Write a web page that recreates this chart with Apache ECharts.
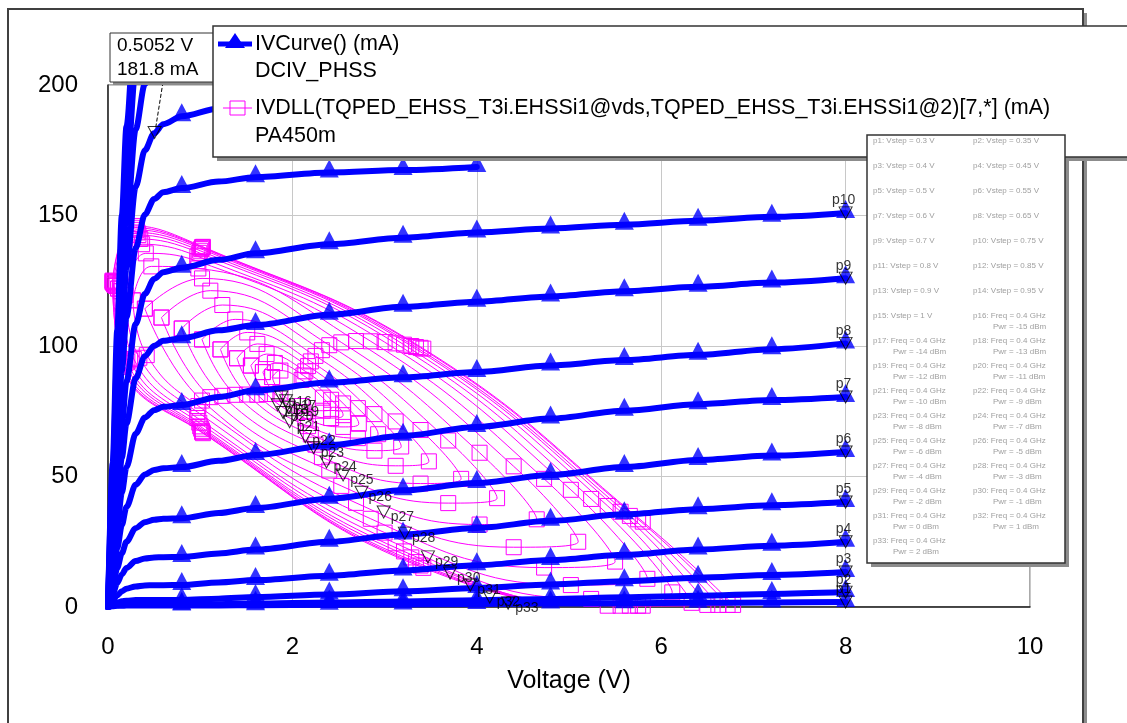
<!DOCTYPE html>
<html>
<head>
<meta charset="utf-8">
<script src="https://cdn.jsdelivr.net/npm/echarts@6/dist/echarts.min.js"></script>
<style>
html,body{margin:0;padding:0;background:#fff;}
#chart{width:1127px;height:723px;}
</style>
</head>
<body>
<div id="chart"></div>
<script>
// ---- DC IV sweep (IVCurve, DCIV_PHSS): drain voltage grid and drain current per Vstep ----
const vds = [0, 0.05, 0.1, 0.15, 0.2, 0.3, 0.4, 0.5, 0.6, 0.8, 1.2, 1.6, 2.4, 3.2, 4.0, 4.8, 5.6, 6.4, 7.2, 8.0];
const curveP1  = [0, 0.3, 0.45, 0.5, 0.53, 0.54, 0.55, 0.55, 0.55, 0.55, 0.6, 0.7, 0.85, 1.0, 1.15, 1.3, 1.45, 1.6, 1.75, 1.9];
const curveP2  = [0, 0.45, 0.7, 0.82, 0.87, 0.89, 0.9, 0.9, 0.9, 0.9, 1.1, 1.3, 1.7, 2.1, 2.6, 3.1, 3.7, 4.3, 5.0, 5.7];
const curveP3  = [0, 0.96, 1.7, 2.17, 2.44, 2.64, 2.69, 2.7, 2.7, 2.7, 3.2, 3.8, 4.8, 6.0, 7.3, 8.6, 9.9, 11.2, 12.3, 13.4];
const curveP4  = [0, 2.4, 4.5, 6.0, 7.0, 7.9, 8.26, 8.35, 8.38, 8.4, 9.4, 10.3, 12, 14, 16, 18, 20, 22, 23.5, 25];
const curveP5  = [0, 4.9, 9.2, 12.5, 14.9, 17.6, 18.6, 19, 19.1, 19.2, 20.5, 22, 25, 27.8, 30.3, 33, 35.5, 37.5, 39, 40.2];
const curveP6  = [0, 7.9, 14.9, 20.6, 25, 30.2, 32.5, 33.4, 33.8, 34, 36, 37.9, 41.5, 44.7, 47.5, 50.6, 53.6, 56.3, 58, 59.4];
const curveP7  = [0, 11.8, 22.5, 31.4, 38.3, 46.8, 50.8, 52.5, 53.2, 53.6, 56, 58.2, 62, 65.6, 69, 72.2, 75.2, 77.7, 79.3, 80.5];
const curveP8  = [0, 16.2, 31.1, 43.8, 53.6, 66.4, 72.6, 75.4, 76.7, 77.4, 80.5, 83, 86, 88, 90, 92.5, 94.6, 96.6, 98.8, 101];
const curveP9  = [0, 21.2, 40.7, 57.2, 70.3, 87.6, 96.1, 100.1, 102, 103, 106, 108, 112, 115, 117, 119, 121, 122.7, 124.3, 126];
const curveP10 = [0, 25.6, 49.3, 69.8, 86.4, 108.4, 120, 125.7, 128.3, 130, 133, 135.5, 139, 141.5, 143.5, 145, 146.5, 148, 149.5, 151];
const curveP11 = [0, 33.6, 64.4, 90.5, 111, 137.5, 150.4, 156.3, 158.9, 160.5, 163, 164.7, 166.5, 167.4, 168.6, null, null, null, null, null];
const curveP12 = [0, 39.5, 75.6, 106, 130, 161, 175, 181.5, 185, 188, 191, 192.5, 194, 195, null, null, null, null, null, null];
const curveP13 = [0, 44, 85, 120, 147, 183, 200.4, 208.5, 212, 214.5, 217, 218, null, null, null, null, null, null, null, null];
const curveP14 = [0, 50, 96, 135, 166, 206, 226, 235, 239, 241.5, 244, 245, null, null, null, null, null, null, null, null];
const curveP15 = [0, 55, 106, 150, 184, 229, 250, 260, 264.5, 267.5, 270, 271, null, null, null, null, null, null, null, null];
const ivCurves = [curveP1, curveP2, curveP3, curveP4, curveP5, curveP6, curveP7, curveP8,
                  curveP9, curveP10, curveP11, curveP12, curveP13, curveP14, curveP15];
const vsteps = [0.3, 0.35, 0.4, 0.45, 0.5, 0.55, 0.6, 0.65, 0.7, 0.75, 0.8, 0.85, 0.9, 0.95, 1];
const triangleStep = 0.8;   // a filled triangle every 0.8 V

// ---- Dynamic load lines (IVDLL, PA450m): one closed loop per input power [V, mA] ----
const loopM15 = [[1.78,88.1],[1.87,90.6],[2.10,87.0],[2.33,80.2],[2.42,75.9],[2.33,75.2],[2.10,77.0],[1.87,82.1],[1.78,88.1]];
const loopM14 = [[1.68,90.0],[1.81,93.5],[2.12,88.7],[2.42,79.4],[2.55,73.5],[2.42,72.4],[2.12,74.7],[1.81,81.6],[1.68,90.0]];
const loopM13 = [[1.55,92.5],[1.72,96.9],[2.14,90.3],[2.55,78.0],[2.72,70.2],[2.55,69.0],[2.14,72.3],[1.72,81.6],[1.55,92.5]];
const loopM12 = [[1.40,95.3],[1.62,100.8],[2.17,92.3],[2.71,76.2],[2.93,66.2],[2.71,64.7],[2.17,69.3],[1.62,81.3],[1.40,95.3]];
const loopM11 = [[1.22,98.7],[1.51,105.2],[2.20,94.1],[2.89,73.9],[3.18,61.5],[2.89,59.9],[2.20,66.1],[1.51,81.4],[1.22,98.7]];
const loopM10 = [[1.02,102.5],[1.38,110.2],[2.25,96.2],[3.12,71.1],[3.48,55.8],[3.12,54.1],[2.25,62.2],[1.38,81.3],[1.02,102.5]];
const loopM9  = [[0.80,106.7],[1.24,115.7],[2.32,98.4],[3.39,67.8],[3.83,49.1],[3.39,47.3],[2.32,57.4],[1.24,80.9],[0.80,106.7]];
const loopM8  = [[0.58,110.9],[1.11,121.2],[2.40,100.3],[3.69,63.8],[4.22,41.7],[3.69,39.8],[2.40,52.3],[1.11,80.4],[0.58,110.9]];
const loopM7  = [[0.40,114.3],[1.02,125.9],[2.53,101.4],[4.03,59.1],[4.65,33.6],[4.03,31.6],[2.53,46.4],[1.02,79.1],[0.40,114.3]];
const loopM6  = [[0.27,117.5],[0.47,130.5],[0.98,129.7],[2.69,101.9],[4.40,53.9],[5.10,25.0],[4.40,22.9],[2.69,39.9],[0.98,77.0],[0.42,96.5],[0.27,117.5]];
const loopM5  = [[0.19,119.5],[0.41,135.5],[0.97,132.5],[2.85,101.8],[4.73,49.1],[5.50,17.4],[4.73,15.1],[2.85,33.8],[0.97,74.7],[0.34,95.5],[0.19,119.5]];
const loopM4  = [[0.14,121.0],[0.37,139.0],[0.97,134.4],[3.00,101.5],[5.02,44.9],[5.85,10.8],[5.02,8.4],[3.00,28.5],[0.97,72.4],[0.28,95.0],[0.14,121.0]];
const loopM3  = [[0.11,122.0],[0.35,141.0],[0.99,135.7],[3.12,101.0],[5.24,41.4],[6.12,5.6],[5.24,3.1],[3.12,24.4],[0.99,70.6],[0.24,94.5],[0.11,122.0]];
const loopM2  = [[0.09,123.0],[0.33,142.5],[1.00,136.5],[3.21,100.5],[5.42,38.7],[6.33,1.6],[5.42,0.5],[3.21,21.3],[1.00,69.2],[0.21,94.0],[0.09,123.0]];
const loopM1  = [[0.07,123.5],[0.32,143.5],[1.01,137.2],[3.29,100.0],[5.56,36.5],[6.50,0.8],[5.56,0.5],[3.29,19.0],[1.01,68.3],[0.19,93.5],[0.07,123.5]];
const loop0   = [[0.06,124.0],[0.31,144.5],[1.02,137.6],[3.34,99.6],[5.66,34.9],[6.62,0.8],[5.66,0.5],[3.34,17.2],[1.02,67.5],[0.17,93.0],[0.06,124.0]];
const loopP1  = [[0.05,124.5],[0.30,145.3],[1.02,137.9],[3.39,99.3],[5.75,33.6],[6.72,0.8],[5.75,0.5],[3.39,15.9],[1.02,67.0],[0.16,92.5],[0.05,124.5]];
const loopP2  = [[0.05,125.0],[0.30,146.0],[1.03,138.0],[3.42,99.0],[5.80,32.7],[6.78,0.8],[5.80,0.5],[3.42,15.0],[1.03,66.6],[0.16,92.0],[0.05,125.0]];
const dllLoops = [loopM15, loopM14, loopM13, loopM12, loopM11, loopM10, loopM9, loopM8, loopM7,
                  loopM6, loopM5, loopM4, loopM3, loopM2, loopM1, loop0, loopP1, loopP2];
const powers = [-15, -14, -13, -12, -11, -10, -9, -8, -7, -6, -5, -4, -3, -2, -1, 0, 1, 2];
const freqGHz = 0.4;

// ---- markers p16..p33 placed on the load lines ----
const pwrMarkV = [1.88, 1.93, 1.84, 1.96, 1.90, 1.97, 2.14, 2.23, 2.37, 2.55, 2.75, 2.99, 3.22, 3.47, 3.71, 3.93, 4.14, 4.34];
const pwrMarkI = [80.5, 79.0, 77.5, 76.5, 74.5, 71.0, 65.3, 61.0, 55.6, 50.6, 44.0, 36.4, 28.3, 19.2, 13.0, 8.4, 3.8, 1.5];

// ---- readout marker ----
const readoutV = 0.5052;
const readoutI = 181.8;

// ---- axes ----
const xTicks = [0, 2, 4, 6, 8, 10];
const yTicks = [0, 50, 100, 150, 200];

const BLUE = '#0000ff';
const PINK = '#ff00ff';
const FONT = 'Arial, "Liberation Sans", sans-serif';
const downTri = 'path://M0,0L10,0L5,9Z';

const chart = echarts.init(document.getElementById('chart'), null, {renderer: 'canvas'});

const series = [];

// load-line loops
dllLoops.forEach((loop, i) => {
  series.push({
    type: 'line', name: 'IVDLL ' + powers[i], data: loop,
    smooth: 0.45, z: 2, clip: true, silent: true,
    symbol: 'rect', symbolSize: 15, showSymbol: true, showAllSymbol: true,
    lineStyle: {color: PINK, width: 1},
    itemStyle: {color: 'rgba(255,255,255,0)', borderColor: PINK, borderWidth: 1}
  });
});

// IV curves
ivCurves.forEach((c, i) => {
  const pts = [];
  vds.forEach((v, j) => { if (c[j] !== null) pts.push([v, c[j]]); });
  series.push({
    type: 'line', name: 'IVCurve p' + (i + 1), data: pts,
    smooth: 0.3, smoothMonotone: 'x', symbol: 'none', z: 3, clip: true, silent: true,
    lineStyle: {color: BLUE, width: 6, cap: 'round', join: 'round'}
  });
});

// filled triangles along the IV curves
const triPts = [];
ivCurves.forEach(c => {
  vds.forEach((v, j) => {
    const k = v / triangleStep;
    if (v > 0 && Math.abs(k - Math.round(k)) < 1e-6 && c[j] !== null) triPts.push([v, c[j]]);
  });
});
series.push({
  type: 'scatter', data: triPts, symbol: 'triangle', symbolSize: [19, 18], symbolOffset: [0, -4],
  itemStyle: {color: BLUE}, z: 4, clip: true, silent: true
});

// p1..p10 markers at the sweep end
const endMarks = [];
ivCurves.forEach((c, i) => {
  const last = c[c.length - 1];
  if (last !== null && last <= 200) endMarks.push({value: [vds[vds.length - 1], last], name: 'p' + (i + 1)});
});
series.push({
  type: 'scatter', data: endMarks, symbol: downTri, symbolSize: [13, 12], z: 6, clip: true, silent: true,
  itemStyle: {color: 'rgba(0,0,0,0)', borderColor: '#000', borderWidth: 1},
  label: {show: true, position: 'top', distance: 1, offset: [-2, 2], formatter: p => p.name,
          color: '#000', fontSize: 14, fontFamily: FONT}
});

// p16..p33 markers on the load lines
const pwrMarks = pwrMarkV.map((v, i) => ({value: [v, pwrMarkI[i]], name: 'p' + (16 + i)}));
series.push({
  type: 'scatter', data: pwrMarks, symbol: downTri, symbolSize: [13, 12], z: 6, clip: true, silent: true,
  itemStyle: {color: 'rgba(0,0,0,0)', borderColor: '#000', borderWidth: 1},
  label: {show: true, position: 'right', distance: 0, offset: [0, 5], formatter: p => p.name,
          color: '#000', fontSize: 14, fontFamily: FONT}
});

// readout marker
series.push({
  type: 'scatter', data: [[readoutV, readoutI]], symbol: downTri, symbolSize: [13, 12], z: 6, silent: true,
  itemStyle: {color: 'rgba(0,0,0,0)', borderColor: '#000', borderWidth: 1}
});

// ---- overlay boxes ----
const G = [];
// outer frame
G.push({type: 'rect', z: 50, shape: {x: 1083, y: 13, width: 4, height: 720}, style: {fill: '#8c8c8c'}});
G.push({type: 'rect', z: 51, shape: {x: 8, y: 9, width: 1075, height: 730}, style: {fill: 'none', stroke: '#404040', lineWidth: 2}});

// readout box
G.push({type: 'rect', z: 100, shape: {x: 113, y: 36, width: 105, height: 49}, style: {fill: '#8c8c8c'}});
G.push({type: 'rect', z: 101, shape: {x: 110, y: 33, width: 105, height: 49}, style: {fill: '#fff', stroke: '#333', lineWidth: 1}});
G.push({type: 'text', z: 102, style: {x: 117, y: 46, text: readoutV.toFixed(4) + ' V', fill: '#000', font: '19px ' + FONT, textVerticalAlign: 'middle'}});
G.push({type: 'text', z: 102, style: {x: 117, y: 70, text: readoutI.toFixed(1) + ' mA', fill: '#000', font: '19px ' + FONT, textVerticalAlign: 'middle'}});

// legend box
G.push({type: 'rect', z: 100, shape: {x: 217, y: 30, width: 920, height: 131}, style: {fill: '#8c8c8c'}});
G.push({type: 'rect', z: 101, shape: {x: 213, y: 26, width: 920, height: 131}, style: {fill: '#fff', stroke: '#333', lineWidth: 1.5}});
G.push({type: 'line', z: 102, shape: {x1: 218, y1: 44, x2: 252, y2: 44}, style: {stroke: BLUE, lineWidth: 5}});
G.push({type: 'polygon', z: 103, shape: {points: [[235, 33], [245, 48], [225, 48]]}, style: {fill: BLUE}});
const legendFont = '21.5px ' + FONT;
G.push({type: 'text', z: 102, style: {x: 255, y: 44, text: 'IVCurve() (mA)', fill: '#000', font: legendFont, textVerticalAlign: 'middle'}});
G.push({type: 'text', z: 102, style: {x: 255, y: 71, text: 'DCIV_PHSS', fill: '#000', font: legendFont, textVerticalAlign: 'middle'}});
G.push({type: 'line', z: 102, shape: {x1: 223, y1: 108, x2: 252, y2: 108}, style: {stroke: PINK, lineWidth: 1}});
G.push({type: 'rect', z: 103, shape: {x: 230, y: 101, width: 15, height: 14}, style: {fill: 'none', stroke: PINK, lineWidth: 1}});
G.push({type: 'text', z: 102, style: {x: 255, y: 108, text: 'IVDLL(TQPED_EHSS_T3i.EHSSi1@vds,TQPED_EHSS_T3i.EHSSi1@2)[7,*] (mA)', fill: '#000', font: legendFont, textVerticalAlign: 'middle'}});
G.push({type: 'text', z: 102, style: {x: 255, y: 136, text: 'PA450m', fill: '#000', font: legendFont, textVerticalAlign: 'middle'}});

// marker list box
G.push({type: 'rect', z: 100, shape: {x: 871, y: 139, width: 198, height: 428}, style: {fill: '#8c8c8c'}});
G.push({type: 'rect', z: 101, shape: {x: 867, y: 135, width: 198, height: 428}, style: {fill: '#fff', stroke: '#333', lineWidth: 1.5}});
const listItems = [];
vsteps.forEach((v, i) => listItems.push(['p' + (i + 1) + ': Vstep = ' + v + ' V']));
powers.forEach((p, i) => listItems.push(['p' + (16 + i) + ': Freq = ' + freqGHz + ' GHz', 'Pwr = ' + p + ' dBm']));
listItems.forEach((lines, i) => {
  const col = i % 2, row = Math.floor(i / 2);
  const x = 873 + col * 100, y = 141 + row * 25;
  G.push({type: 'text', z: 102, style: {x: x, y: y, text: lines[0], fill: '#a0a0a0', font: '8px ' + FONT, textVerticalAlign: 'middle'}});
  if (lines[1]) G.push({type: 'text', z: 102, style: {x: x + 20, y: y + 11, text: lines[1], fill: '#a0a0a0', font: '8px ' + FONT, textVerticalAlign: 'middle'}});
});

const option = {
  animation: false,
  backgroundColor: '#fff',
  grid: {left: 108, top: 85, width: 922, height: 522, show: true, borderColor: '#555', borderWidth: 1},
  xAxis: {
    type: 'value', min: xTicks[0], max: xTicks[xTicks.length - 1], interval: xTicks[1] - xTicks[0],
    name: 'Voltage (V)', nameLocation: 'middle', nameGap: 62,
    nameTextStyle: {color: '#000', fontSize: 25, fontFamily: FONT},
    axisLine: {show: true, lineStyle: {color: '#222', width: 1.5}},
    axisTick: {show: false},
    axisLabel: {color: '#000', fontSize: 24, fontFamily: FONT, margin: 28},
    splitLine: {show: true, lineStyle: {color: '#c8c8c8', width: 1}}
  },
  yAxis: {
    type: 'value', min: yTicks[0], max: yTicks[yTicks.length - 1], interval: yTicks[1] - yTicks[0],
    axisLine: {show: true, lineStyle: {color: '#222', width: 1.5}},
    axisTick: {show: false},
    axisLabel: {color: '#000', fontSize: 24, fontFamily: FONT, margin: 30},
    splitLine: {show: true, lineStyle: {color: '#c8c8c8', width: 1}}
  },
  series: series,
  graphic: {elements: G}
};
chart.setOption(option);

// dashed leader from the readout box to its marker
const mp = chart.convertToPixel({gridIndex: 0}, [readoutV, readoutI]);
G.push({type: 'line', z: 99, shape: {x1: 163, y1: 82, x2: mp[0] + 1, y2: mp[1] - 4},
        style: {stroke: '#000', lineWidth: 1, lineDash: [4, 2]}});
chart.setOption({graphic: {elements: G}}, {replaceMerge: ['graphic']});
</script>
</body>
</html>
